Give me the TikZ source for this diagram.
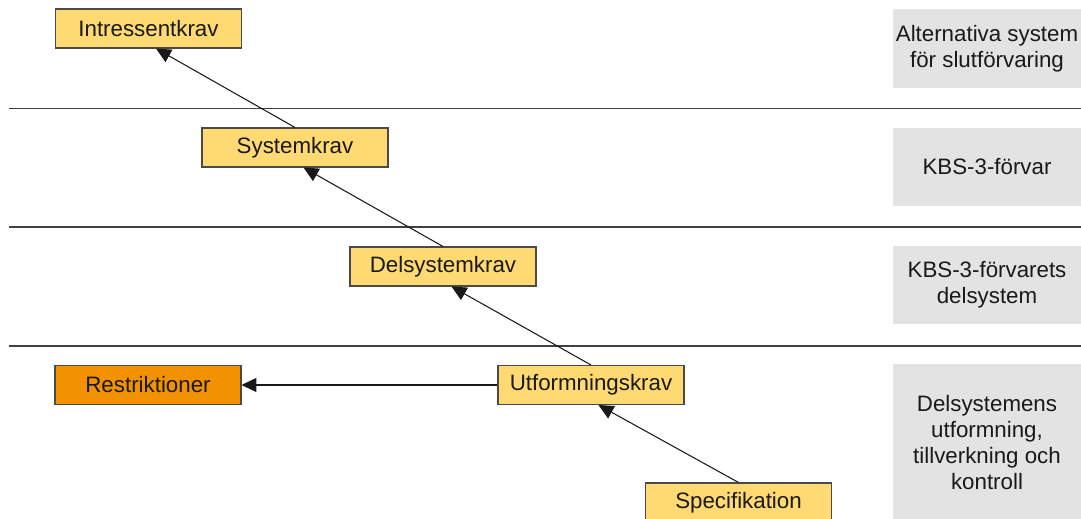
\documentclass[tikz,border=0pt]{standalone}
\usepackage{fontspec}
\setmainfont{Liberation Sans}
\usepackage{tikz}
\usetikzlibrary{arrows.meta}

\definecolor{kravgul}{HTML}{FFDA73}
\definecolor{restorange}{HTML}{F39200}
\definecolor{nivagra}{HTML}{E3E3E3}
\definecolor{kant}{HTML}{4A4A4A}

\begin{document}
\begin{tikzpicture}[x=0.02cm, y=-0.02cm,
    every node/.style={font=\fontsize{12.7}{14.8}\selectfont, text=black!90},
    krav/.style={draw=kant, line width=0.6pt, fill=kravgul, minimum width=3.72cm, minimum height=0.78cm, inner sep=0pt},
    niva/.style={fill=nivagra, minimum width=3.76cm, minimum height=1.58cm, align=center, inner sep=0pt},
    pil/.style={-{Triangle[length=8.5pt, width=8pt]}, line width=0.6pt, black!90},
    grans/.style={line width=0.8pt, black!75}]
            \useasboundingbox (0,0) rectangle (1081,519);
            % Nivåer
            \node[niva] (n1) at (987,48.5) {Alternativa system\\för slutförvaring};
            \node[niva] (n2) at (987,167) {KBS-3-förvar};
            \node[niva] (n3) at (987,285) {KBS-3-förvarets\\delsystem};
            \node[niva, minimum height=3.16cm] (n4) at (987,443) {Delsystemens\\utformning,\\tillverkning och\\kontroll};

            % Gränser
            \coordinate (g1v) at (9,108.5);
            \coordinate (g2v) at (9,227);
            \coordinate (g3v) at (9,346);
            \draw[grans] (g1v) -- (g1v -| 1081,0);
            \draw[grans] (g2v) -- (g2v -| 1081,0);
            \draw[grans] (g3v) -- (g3v -| 1081,0);

            % Noder
            \node[krav] (int) at (148.5,28.5) {Intressentkrav};
            \node[krav] (sys) at (295,147.5) {Systemkrav};
            \node[krav] (del) at (443,266.5) {Delsystemkrav};
            \node[krav] (utf) at (591,385) {Utformningskrav};
            \node[krav, fill=restorange] (res) at (148,385) {Restriktioner};
            \node[krav] (spe) at (738.5,502.5) {Specifikation};

            % Pilar
            \draw[pil] (sys.north) -- ([xshift=0.15cm]int.south);
            \draw[pil] (del.north) -- ([xshift=0.17cm]sys.south);
            \draw[pil] (utf.north) -- ([xshift=0.17cm]del.south);
            \draw[pil] (spe.north) -- ([xshift=0.15cm]utf.south);
            \draw[pil] (utf.west) -- (res.east);
\end{tikzpicture}
\end{document}
